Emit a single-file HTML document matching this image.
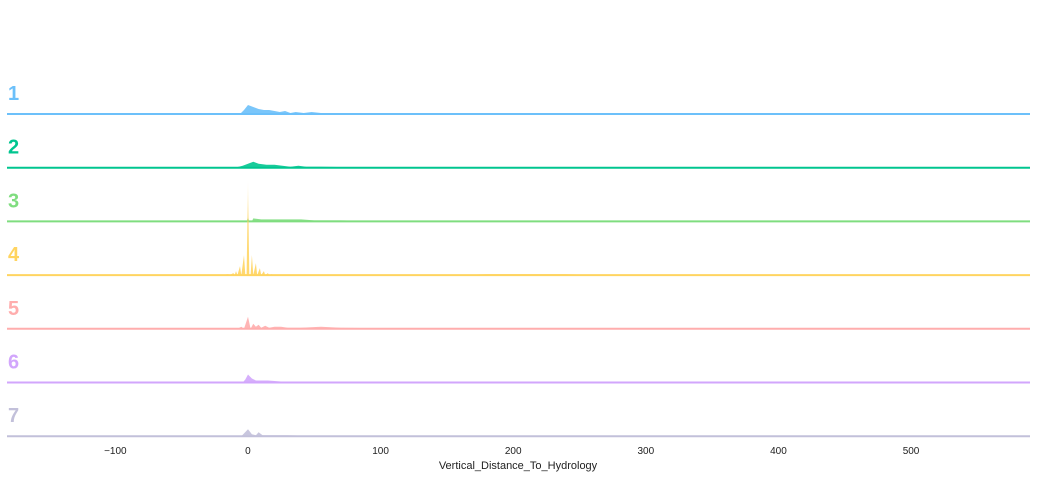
<!DOCTYPE html>
<html><head><meta charset="utf-8"><style>
body{margin:0;background:#fff;}
svg{display:block;font-family:"Liberation Sans",sans-serif;}
</style></head><body>
<svg id="chart" width="1037" height="478">
<defs>
<linearGradient id="fade" x1="0" y1="1" x2="0" y2="0"><stop offset="0" stop-color="#ffd460" stop-opacity="1"/><stop offset="0.6" stop-color="#ffd460" stop-opacity="0.9"/><stop offset="1" stop-color="#ffd460" stop-opacity="0.15"/></linearGradient>
</defs>
<g id="rows"></g>
<g id="xaxis"></g>
<text x="518" y="469" text-anchor="middle" font-size="11" fill="#222">Vertical_Distance_To_Hydrology</text>
</svg>
<script>
const categories = ["1","2","3","4","5","6","7"];
const colors = ["#6cc0fa","#00c58f","#7fdd7f","#ffd460","#ffadad","#d2a6fc","#c2c0da"];
const xTicks = [-100,0,100,200,300,400,500];
// series: [x, density height] pairs
const s1 = [[-6,0],[-3,4],[0,9],[4,7],[8,5],[12,4],[16,4],[20,3],[24,2],[28,3],[32,1],[36,2],[42,1],[48,2],[55,1],[70,0.6],[100,0.3],[140,0]];
const s2 = [[-10,0],[-4,2],[0,4],[4,6],[8,4],[14,3],[20,3],[26,2],[32,1],[38,2],[44,1],[55,1],[80,0.5],[130,0.3],[180,0]];
const s3 = [[-1,0],[0,4],[1,0],[3,0],[4,3],[10,2],[20,2],[30,2],[40,2],[50,1],[60,1],[70,1],[90,0.5],[130,0.3],[180,0]];
const s4 = [[-20,0],[-15,1],[-14,0],[-11,2],[-10,0],[-9,4],[-8,0],[-6,9],[-5,0],[-3,20],[-2,0],[-1,0],[0,95],[1,0],[2,0],[3,20],[4,0],[6,12],[7,0],[9,7],[10,0],[12,4],[13,0],[15,2],[16,0],[18,1],[19,0],[160,0],[180,1],[240,1],[260,0]];
const s5 = [[-8,0],[-5,2],[-3,0],[0,12],[2,0],[4,5],[6,2],[8,4],[10,1],[13,3],[16,1],[20,2],[25,2],[30,1],[40,1],[55,2],[70,1],[110,0.5],[160,0.3],[260,0]];
const s6 = [[-4,0],[-2,3],[0,8],[3,4],[6,2],[15,2],[25,1],[32,1],[40,0.5],[60,0]];
const s7 = [[-5,0],[0,7],[3,2],[6,1],[8,4],[11,1],[18,1],[30,1],[45,0.5],[70,0]];
const series = [s1,s2,s3,s4,s5,s6,s7];

const X0=-181.7, X1=589.7, PX0=7, PX1=1030;
const xs = v => PX0 + (v-X0)/(X1-X0)*(PX1-PX0);
const base = i => 114 + i*53.7;
const rows = document.getElementById('rows');
const NS="http://www.w3.org/2000/svg";
series.forEach((s,i)=>{
  const g=document.createElementNS(NS,'g');
  
  
  const b=base(i);
  let d='M'+PX0+','+b+' L'+xs(s[0][0])+','+b;
  s.forEach(p=>{d+=' L'+xs(p[0]).toFixed(1)+','+(b-p[1]).toFixed(1);});
  d+=' L'+xs(s[s.length-1][0])+','+b+' L'+PX1+','+b+' Z';
  const area=document.createElementNS(NS,'path');
  area.setAttribute('d',d);
  area.setAttribute('fill',i===3?'url(#fade)':colors[i]);
  area.setAttribute('fill-opacity','0.9');
  
  
  g.appendChild(area);
  const ln=document.createElementNS(NS,'line');
  ln.setAttribute('x1',PX0);ln.setAttribute('x2',PX1);ln.setAttribute('y1',b);ln.setAttribute('y2',b);
  ln.setAttribute('stroke',colors[i]);ln.setAttribute('stroke-width','2');
  
  
  g.appendChild(ln);
  const t=document.createElementNS(NS,'text');
  t.setAttribute('x',8);t.setAttribute('y',b-14);t.setAttribute('font-size','20');t.setAttribute('font-weight','bold');
  t.setAttribute('fill',colors[i]);t.textContent=categories[i];
  
  
  g.appendChild(t);
  rows.appendChild(g);
});
const xa=document.getElementById('xaxis');
xTicks.forEach(v=>{
  const t=document.createElementNS(NS,'text');
  t.setAttribute('x',xs(v));t.setAttribute('y',454);t.setAttribute('text-anchor','middle');
  t.setAttribute('font-size','10');t.setAttribute('fill','#222');
  t.textContent=v<0?'\u2212'+Math.abs(v):String(v);
  
  
  xa.appendChild(t);
});
</script>
</body></html>
